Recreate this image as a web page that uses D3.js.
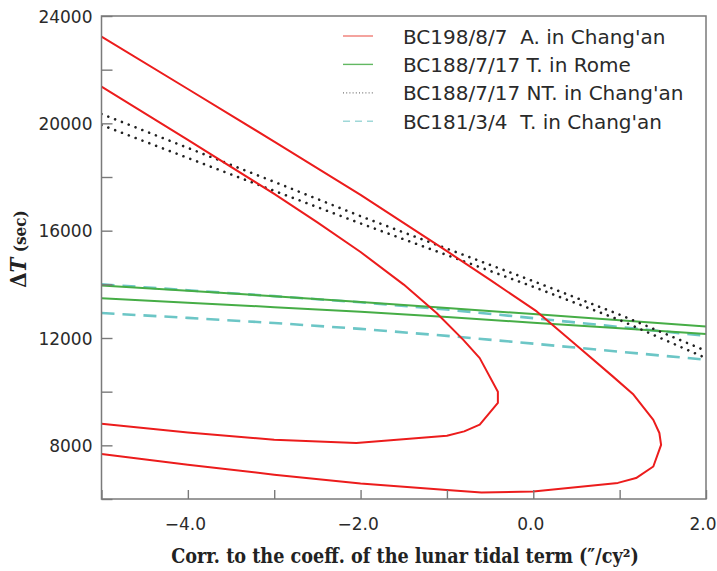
<!DOCTYPE html>
<html>
<head>
<meta charset="utf-8">
<script src="https://cdn.jsdelivr.net/npm/d3@7"></script>
<style>
  html, body { margin: 0; padding: 0; background: #fff; }
  svg { display: block; }
</style>
</head>
<body>
<svg id="chart" width="717" height="571"></svg>
<script>
// ΔT constraints versus correction to the lunar tidal coefficient

// BC198/8/7 annular eclipse in Chang'an: outer contour (top branch, nose, bottom branch)
const aOuterX = [-5, -4, -3, -2, -1, -0.5, 0.04, 0.54, 0.92, 1.16, 1.39, 1.46, 1.48, 1.39, 1.19, 0.98, 0, -0.6, -1, -2, -3, -4, -5];
const aOuterY = [23230, 21280, 19320, 17335, 15235, 14165, 12990, 11620, 10570, 9890, 8950, 8460, 8020, 7210, 6780, 6600, 6280, 6245, 6335, 6575, 6905, 7280, 7675];
// inner contour
const aInnerX = [-5, -4, -3, -2.5, -2, -1.5, -1.12, -0.81, -0.62, -0.41, -0.41, -0.62, -0.8, -1.0, -2.05, -3, -4, -5];
const aInnerY = [21370, 19380, 17370, 16310, 15205, 13990, 12930, 11930, 11250, 10000, 9580, 8770, 8520, 8360, 8090, 8210, 8480, 8800];

// shared abscissa for the band edges
const gridX = [-5, -4, -3, -2, -1, 0, 1, 2];
// BC188/7/17 total eclipse in Rome
const romeUpper = [13960, 13760, 13560, 13345, 13115, 12890, 12660, 12430];
const romeLower = [13485, 13318, 13150, 12977, 12780, 12572, 12360, 12145];
// BC188/7/17 non-total eclipse in Chang'an
const ntUpper = [20350, 19085, 17820, 16540, 15330, 14120, 12870, 11520];
const ntLower = [19940, 18710, 17485, 16270, 15090, 13910, 12670, 11250];
// BC181/3/4 total eclipse in Chang'an
const tUpper = [14000, 13780, 13560, 13330, 13060, 12740, 12410, 12080];
const tLower = [12930, 12750, 12560, 12340, 12080, 11790, 11490, 11190];

const xTickValues = [-5, -4, -3, -2, -1, 0, 1, 2];
const xTickLabels = [-4, -2, 0, 2];
const yTickValues = [6000, 8000, 10000, 12000, 14000, 16000, 18000, 20000, 22000, 24000];
const yTickLabels = [8000, 12000, 16000, 20000, 24000];

const legendLabels = [
  "BC198/8/7  A. in Chang'an",
  "BC188/7/17 T. in Rome",
  "BC188/7/17 NT. in Chang'an",
  "BC181/3/4  T. in Chang'an"
];

const RED = "#ec1c1c", GREEN = "#46ad46", DOT = "#222", CYAN = "#6cc6c6";
const FRAME = "#7a7a7a";

const svg = d3.select("#chart");
const box = { left: 101.5, right: 706, top: 16, bottom: 499 };

const x = d3.scaleLinear().domain([-5, 2]).range([box.left, box.right]);
const y = d3.scaleLinear().domain([6000, 24000]).range([box.bottom, box.top]);

svg.append("clipPath").attr("id", "plotClip")
  .append("rect").attr("x", box.left).attr("y", box.top)
  .attr("width", box.right - box.left).attr("height", box.bottom - box.top);

const line = d3.line().x(d => x(d[0])).y(d => y(d[1]));
const zip = (xs, ys) => xs.map((v, i) => [v, ys[i]]);

const plot = svg.append("g").attr("clip-path", "url(#plotClip)");

const series = [
  { pts: zip(gridX, tUpper), color: CYAN, width: 2.6, dash: "13,8", cap: "butt" },
  { pts: zip(gridX, tLower), color: CYAN, width: 2.6, dash: "13,8", cap: "butt" },
  { pts: zip(gridX, romeUpper), color: GREEN, width: 2, dash: null, cap: "butt" },
  { pts: zip(gridX, romeLower), color: GREEN, width: 2, dash: null, cap: "butt" },
  { pts: zip(gridX, ntUpper), color: DOT, width: 2.6, dash: "0.01,7.3", cap: "round" },
  { pts: zip(gridX, ntLower), color: DOT, width: 2.6, dash: "0.01,7.3", cap: "round" },
  { pts: zip(aOuterX, aOuterY), color: RED, width: 2, dash: null, cap: "butt" },
  { pts: zip(aInnerX, aInnerY), color: RED, width: 2, dash: null, cap: "butt" }
];

series.forEach(s => {
  plot.append("path")
    .attr("d", line(s.pts))
    .attr("fill", "none")
    .attr("stroke", s.color)
    .attr("stroke-width", s.width)
    .attr("stroke-linejoin", "round")
    .attr("stroke-linecap", s.cap)
    .attr("stroke-dasharray", s.dash);
});

// axes with inward ticks
const fmtX = v => (v < 0 ? "\u2212" : "") + Math.abs(v).toFixed(1);
const xAxis = d3.axisBottom(x).tickValues(xTickValues).tickSizeInner(-9).tickSizeOuter(0)
  .tickFormat(v => xTickLabels.includes(v) ? fmtX(v) : "");
const yAxis = d3.axisLeft(y).tickValues(yTickValues).tickSizeInner(-11).tickSizeOuter(0)
  .tickFormat(v => yTickLabels.includes(v) ? String(v) : "");

const gx = svg.append("g").attr("transform", `translate(0,${box.bottom})`).call(xAxis);
const gy = svg.append("g").attr("transform", `translate(${box.left},0)`).call(yAxis);

[gx, gy].forEach(g => {
  g.select(".domain").remove();
  g.selectAll(".tick line").attr("stroke", FRAME).attr("stroke-width", 1.4);
  g.selectAll(".tick text")
    .attr("fill", "#2a2a2a")
    .attr("font-family", "'DejaVu Sans', sans-serif")
    .attr("font-size", 17);
});
gx.selectAll(".tick text").attr("y", 31).attr("dy", 0).attr("dx", -3);
// last label sits flush against the right edge of the page
gx.selectAll(".tick text").filter(d => d === 2)
  .attr("text-anchor", "end").attr("dx", 0).attr("x", 716 - box.right);
gy.selectAll(".tick text").attr("x", -9).attr("dy", "0.37em");

// frame
svg.append("rect")
  .attr("x", box.left).attr("y", box.top)
  .attr("width", box.right - box.left).attr("height", box.bottom - box.top)
  .attr("fill", "none").attr("stroke", FRAME).attr("stroke-width", 1.5);

// legend
const legend = svg.append("g");
const legendStyles = [
  { color: "#f07b74", width: 1.4, dash: null },
  { color: "#62b862", width: 1.4, dash: null },
  { color: "#777", width: 1.3, dash: "1,2.2" },
  { color: "#9fd8d8", width: 1.5, dash: "7,5" }
];
legendLabels.forEach((lab, i) => {
  const ly = 36 + i * 28.4;
  const st = legendStyles[i];
  legend.append("line")
    .attr("x1", 343).attr("x2", 373).attr("y1", ly).attr("y2", ly)
    .attr("stroke", st.color).attr("stroke-width", st.width)
    .attr("stroke-dasharray", st.dash);
  legend.append("text")
    .attr("x", 403).attr("y", ly + 7.5)
    .attr("font-family", "'DejaVu Sans', sans-serif")
    .attr("font-size", 20)
    .attr("fill", "#2a2a2a")
    .style("white-space", "pre")
    .text(lab);
});

// axis titles
const serif = "'DejaVu Serif Condensed', 'DejaVu Serif', serif";
const xt = svg.append("text")
  .attr("x", 405).attr("y", 563)
  .attr("text-anchor", "middle")
  .attr("font-family", serif)
  .attr("font-stretch", "condensed")
  .attr("font-weight", "bold")
  .attr("font-size", 18)
  .attr("fill", "#222")
  .text("Corr. to the coeff. of the lunar tidal term (\u2033/cy\u00B2)");
// size the title so it spans the same run under the axis
const xtLen = xt.node().getComputedTextLength();
if (xtLen > 0) xt.attr("font-size", Math.min(20, 18 * 468 / xtLen));

const yt = svg.append("text")
  .attr("transform", "translate(26,249) rotate(-90)")
  .attr("text-anchor", "middle")
  .attr("font-family", serif)
  .attr("font-stretch", "condensed")
  .attr("font-weight", "bold")
  .attr("fill", "#222")
  .style("white-space", "pre");
yt.append("tspan").attr("font-size", 22).text("\u0394");
yt.append("tspan").attr("font-size", 22).attr("font-style", "italic").text("T");
yt.append("tspan").attr("font-size", 17).text(" (sec)");
</script>
</body>
</html>
